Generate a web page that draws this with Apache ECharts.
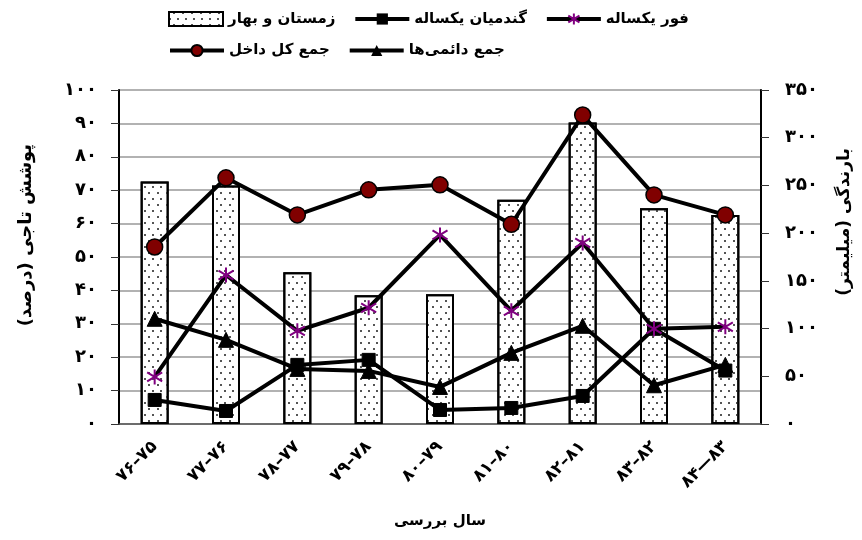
<!DOCTYPE html>
<html><head><meta charset="utf-8">
<script src="https://cdn.jsdelivr.net/npm/echarts@6/dist/echarts.min.js"></script>
<style>html,body{margin:0;padding:0;background:#fff}#c{width:862px;height:540px}</style>
</head><body><div id="c"></div>
<script>
const categories = ['۷۶–۷۵','۷۷–۷۶','۷۸–۷۷','۷۹–۷۸','۸۰–۷۹','۸۱–۸۰','۸۲–۸۱','۸۳–۸۲','۸۴—۸۳'];
const rainfall = [254, 250, 159, 135, 136, 235, 316, 226, 219];       // زمستان و بهار (mm, right axis)
const annualGrass = [7.2, 3.9, 17.7, 19.2, 4.2, 4.8, 8.4, 28.5, 16];  // گندمیان یکساله
const annualForb = [14.1, 44.6, 27.9, 34.8, 56.6, 33.9, 54.2, 28.5, 29.1]; // فور یکساله
const perennial = [31.5, 25.2, 16.5, 15.9, 11.1, 21.3, 29.4, 11.6, 17.7];  // جمع دائمی‌ها
const totalCover = [53.0, 73.7, 62.6, 70.1, 71.6, 59.8, 92.5, 68.6, 62.6]; // جمع کل داخل
const leftTicks = ['۰','۱۰','۲۰','۳۰','۴۰','۵۰','۶۰','۷۰','۸۰','۹۰','۱۰۰'];
const rightTicks = ['۰','۵۰','۱۰۰','۱۵۰','۲۰۰','۲۵۰','۳۰۰','۳۵۰'];
const names = {
  rain: 'زمستان و بهار', grass: 'گندمیان یکساله', forb: 'فور یکساله',
  per: 'جمع دائمی‌ها', total: 'جمع کل داخل'
};
const FONT = 'DejaVu Sans';
const chart = echarts.init(document.getElementById('c'), null, {renderer: 'canvas'});
const lineBase = {type: 'line', yAxisIndex: 0, lineStyle: {color: '#000', width: 4}, z: 5};
const legendText = {fontFamily: FONT, fontWeight: 'bold', fontSize: 15, color: '#000', width: 112};
chart.setOption({
  animation: false,
  backgroundColor: '#fff',
  textStyle: {fontFamily: FONT},
  legend: [
    {data: [{name: names.rain, icon: 'rect'}, names.grass, names.forb], left: 163, top: 6,
     itemWidth: 54, itemHeight: 14, itemGap: 18, lineStyle: {width: 4}, textStyle: legendText},
    {data: [names.total, names.per], left: 163, top: 38,
     itemWidth: 54, itemHeight: 14, itemGap: 18, lineStyle: {width: 4}, textStyle: legendText}
  ],
  grid: {left: 119, right: 101, top: 90, bottom: 116},
  xAxis: {
    type: 'category', data: categories,
    name: 'سال بررسی', nameLocation: 'middle', nameGap: 90,
    nameTextStyle: {fontFamily: FONT, fontWeight: 'bold', fontSize: 15, color: '#000'},
    axisLine: {lineStyle: {color: '#555', width: 1.5}},
    axisTick: {length: 7, lineStyle: {color: '#555'}},
    axisLabel: {rotate: 45, fontFamily: FONT, fontWeight: 'bold', fontSize: 17, color: '#000', margin: 20}
  },
  yAxis: [
    {type: 'value', min: 0, max: 100, interval: 10, position: 'left',
     name: 'پوشش تاجی (درصد)', nameLocation: 'middle', nameGap: 84, nameRotate: 90,
     nameTextStyle: {fontFamily: FONT, fontWeight: 'bold', fontSize: 18, color: '#000', padding: [0, 0, 0, 44]},
     axisLine: {show: true, lineStyle: {color: '#000', width: 2}},
     axisTick: {show: true, length: 8, lineStyle: {color: '#333'}},
     splitLine: {lineStyle: {color: '#999', width: 1.5}},
     axisLabel: {fontFamily: FONT, fontWeight: 'bold', fontSize: 18, color: '#000', margin: 22,
       formatter: v => leftTicks[Math.round(v / 10)]}},
    {type: 'value', min: 0, max: 350, interval: 50, position: 'right',
     name: 'بارندگی (میلیمتر)', nameLocation: 'middle', nameGap: 75, nameRotate: 90,
     nameTextStyle: {fontFamily: FONT, fontWeight: 'bold', fontSize: 17, color: '#000', padding: [0, 0, 0, 70]},
     axisLine: {show: true, lineStyle: {color: '#000', width: 2}},
     axisTick: {show: true, length: 8, lineStyle: {color: '#333'}},
     splitLine: {show: false},
     axisLabel: {fontFamily: FONT, fontWeight: 'bold', fontSize: 18, color: '#000', margin: 24,
       formatter: v => rightTicks[Math.round(v / 50)]}}
  ],
  series: [
    {name: names.rain, type: 'bar', yAxisIndex: 1, data: rainfall, barWidth: 28, z: 2,
     itemStyle: {color: '#fff', borderColor: '#000', borderWidth: 2,
       decal: {symbol: 'rect', symbolSize: 1, color: '#555', dashArrayX: [[1.5, 6], [0, 3.75, 1.5, 2.25]], dashArrayY: [1.5, 4], rotation: 0}}},
    Object.assign({}, lineBase, {name: names.grass, data: annualGrass, symbol: 'rect', symbolSize: 13,
      itemStyle: {color: '#000', borderColor: '#000'}}),
    Object.assign({}, lineBase, {name: names.forb, data: annualForb,
      symbol: 'path://M10,0L10,20M1,4L19,16M1,16L19,4', symbolSize: 15,
      itemStyle: {color: 'rgba(0,0,0,0)', borderColor: '#800080', borderWidth: 2}}),
    Object.assign({}, lineBase, {name: names.per, data: perennial, symbol: 'triangle', symbolSize: 15,
      itemStyle: {color: '#000', borderColor: '#000'}}),
    Object.assign({}, lineBase, {name: names.total, data: totalCover, symbol: 'circle', symbolSize: 16,
      itemStyle: {color: '#800000', borderColor: '#000', borderWidth: 1.5}})
  ]
});
</script></body></html>
